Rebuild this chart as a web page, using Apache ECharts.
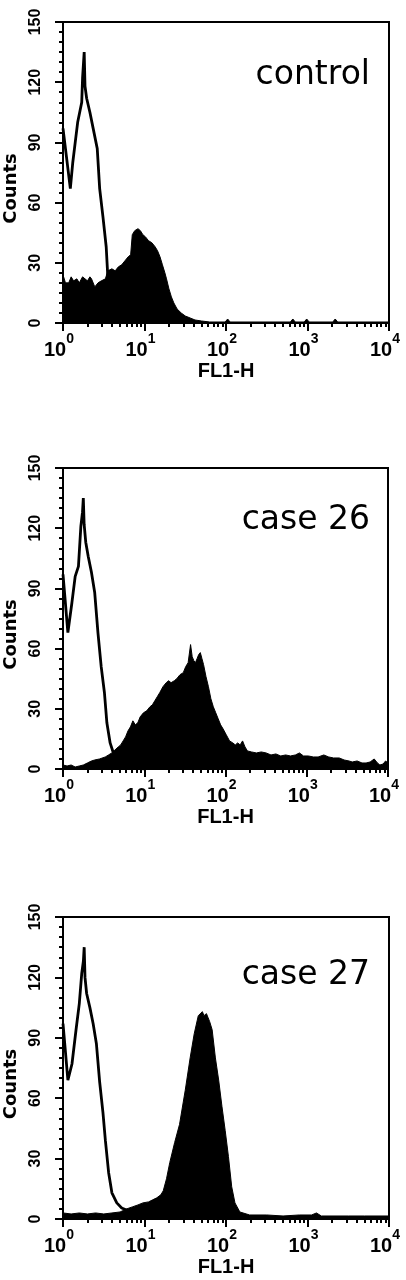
<!DOCTYPE html>
<html>
<head>
<meta charset="utf-8">
<script src="https://cdn.jsdelivr.net/npm/echarts@6/dist/echarts.min.js"></script>
<style>
  html, body { margin: 0; padding: 0; background: #fff; }
  #chart { width: 406px; height: 1280px; }
</style>
</head>
<body>
<div id="chart"></div>
<script>
// x values are FL1-H in decades (0 = 10^0 ... 4 = 10^4), y values are counts

// control
const ctrlOpenX = [0, 0.02, 0.09, 0.12, 0.15, 0.18, 0.21, 0.23, 0.24, 0.26, 0.27, 0.29, 0.33, 0.37, 0.42, 0.45, 0.49, 0.53, 0.55, 0.58, 0.62, 0.68, 0.75, 0.85, 0.95]
const ctrlOpenY = [97, 97, 67, 80, 90, 100, 106, 110, 122, 135, 118, 112, 105, 97, 87, 67, 53, 38, 23, 14, 8, 4, 2, 1, 0]
const ctrlFillX = [0, 0.03, 0.07, 0.10, 0.13, 0.17, 0.20, 0.24, 0.27, 0.30, 0.33, 0.35, 0.39, 0.43, 0.47, 0.52, 0.55, 0.60, 0.64, 0.68, 0.72, 0.76, 0.80, 0.83, 0.85, 0.88, 0.92, 0.95, 0.98, 1.01, 1.05, 1.09, 1.13, 1.16, 1.19, 1.22, 1.25, 1.27, 1.30, 1.33, 1.36, 1.40, 1.45, 1.50, 1.56, 1.62, 1.70, 1.80, 1.99, 2.02, 2.05, 2.79, 2.82, 2.85, 2.96, 2.99, 3.02, 3.31, 3.34, 3.37, 4]
const ctrlFillY = [24, 20, 20, 23, 21, 22, 20, 23, 22, 21, 23, 22, 18, 20, 21, 22, 26, 27, 26, 28, 29, 31, 33, 34, 44, 46, 47, 46, 44, 43, 41, 40, 38, 36, 33, 29, 25, 22, 17, 13, 10, 7, 5, 3.5, 2.5, 1.5, 1, 0.5, 0.5, 2, 0.5, 0.5, 2, 0.5, 0.5, 2, 0.5, 0.5, 2, 0.5, 0.5]

// case 26
const c26OpenX = [0, 0.06, 0.11, 0.15, 0.19, 0.22, 0.24, 0.25, 0.26, 0.28, 0.31, 0.35, 0.39, 0.43, 0.47, 0.51, 0.54, 0.58, 0.62, 0.66, 0.72, 0.80, 0.90, 1.0]
const c26OpenY = [97, 68, 83, 96, 101, 121, 128, 135, 122, 113, 106, 98, 88, 68, 51, 38, 23, 13, 8, 5, 3, 1.5, 0.5, 0]
const c26FillX = [0, 0.05, 0.10, 0.15, 0.20, 0.25, 0.30, 0.35, 0.39, 0.45, 0.52, 0.56, 0.60, 0.64, 0.68, 0.71, 0.74, 0.77, 0.80, 0.83, 0.86, 0.89, 0.92, 0.95, 0.99, 1.03, 1.07, 1.10, 1.13, 1.16, 1.19, 1.23, 1.27, 1.30, 1.33, 1.37, 1.40, 1.44, 1.48, 1.51, 1.54, 1.57, 1.59, 1.61, 1.63, 1.65, 1.67, 1.69, 1.71, 1.73, 1.76, 1.79, 1.82, 1.85, 1.88, 1.91, 1.94, 1.97, 2.01, 2.05, 2.09, 2.12, 2.15, 2.18, 2.21, 2.24, 2.27, 2.32, 2.38, 2.44, 2.50, 2.56, 2.62, 2.68, 2.74, 2.80, 2.86, 2.91, 2.96, 3.02, 3.08, 3.14, 3.21, 3.27, 3.33, 3.40, 3.46, 3.52, 3.56, 3.62, 3.68, 3.73, 3.78, 3.83, 3.87, 3.90, 3.94, 3.97, 4]
const c26FillY = [2, 1.5, 2, 1, 1.5, 2, 3, 4, 4.5, 5, 6, 7, 8, 9.5, 11, 12, 14, 16, 19, 21, 24, 22, 23, 26, 28, 29, 31, 32, 34, 36, 38, 41, 43, 44, 43, 44, 45, 47, 48, 51, 53, 62, 56, 54, 53, 55, 57, 58, 55, 52, 46, 41, 35, 31, 28, 25, 22, 20, 17, 14, 13, 12, 13, 12, 14, 11, 9, 8.5, 8, 8.5, 8, 7, 7.5, 6.5, 7, 6.5, 7, 8, 6.5, 6.5, 6, 6, 7, 6, 5.5, 5.5, 4.5, 4, 3.5, 4, 3, 3, 3.5, 5, 3, 2, 2.5, 4, 3]

// case 27
const c27OpenX = [0, 0.06, 0.11, 0.16, 0.20, 0.23, 0.25, 0.26, 0.27, 0.29, 0.33, 0.37, 0.41, 0.45, 0.49, 0.52, 0.56, 0.60, 0.66, 0.72, 0.78, 0.85, 0.95, 1.05]
const c27OpenY = [97, 69, 77, 94, 107, 122, 128, 135, 120, 112, 105, 97, 87, 68, 53, 39, 23, 13, 8, 5.5, 4.5, 3, 1.5, 0.5]
const c27FillX = [0, 0.10, 0.20, 0.30, 0.40, 0.50, 0.60, 0.70, 0.78, 0.85, 0.92, 0.98, 1.05, 1.10, 1.15, 1.20, 1.23, 1.27, 1.31, 1.37, 1.43, 1.50, 1.56, 1.61, 1.66, 1.71, 1.73, 1.76, 1.80, 1.83, 1.87, 1.91, 1.95, 1.99, 2.03, 2.07, 2.11, 2.17, 2.29, 2.50, 2.70, 2.90, 3.05, 3.11, 3.17, 3.50, 3.70, 4]
const c27FillY = [3, 2.5, 3, 2.5, 3, 2.5, 3, 3.5, 5, 6, 7, 8, 8.5, 9.5, 10.5, 12, 14, 20, 28, 38, 47, 64, 80, 92, 101, 103, 101, 102, 98, 94, 80, 69, 56, 44, 31, 16, 8, 3.5, 2, 2, 1.5, 2, 2, 3, 1.5, 1.5, 1.5, 1.5]

const panelNames = ['control', 'case 26', 'case 27']
const decadeLabels = ['0', '1', '2', '3', '4']

const panels = [
  { name: panelNames[0], open: [ctrlOpenX, ctrlOpenY], fill: [ctrlFillX, ctrlFillY] },
  { name: panelNames[1], open: [c26OpenX, c26OpenY], fill: [c26FillX, c26FillY] },
  { name: panelNames[2], open: [c27OpenX, c27OpenY], fill: [c27FillX, c27FillY] }
]

const grids = [
  { left: 63, top: 22, width: 326, height: 301 },
  { left: 63, top: 468, width: 325, height: 301 },
  { left: 63, top: 917, width: 326, height: 302 }
]
const labelTops = [59, 504, 959]

// log-spaced minor ticks inside each decade
const minorTicks = []
for (let d = 0; d < 4; d++) {
  for (let k = 2; k <= 9; k++) minorTicks.push(d + Math.log10(k))
}

const black = '#000'

function pairs(xs, ys) {
  return xs.map((x, i) => [x, ys[i]])
}

const xAxes = []
const yAxes = []
const series = []

panels.forEach((p, i) => {
  xAxes.push({
    type: 'value',
    gridIndex: i,
    position: 'bottom',
    min: 0,
    max: 4,
    interval: 1,
    name: 'FL1-H',
    nameLocation: 'middle',
    nameGap: 38,
    nameTextStyle: { color: black, fontSize: 20, fontWeight: 'bold', fontFamily: 'Liberation Sans' },
    axisLine: { show: true, lineStyle: { color: black, width: 2 } },
    axisTick: { show: true, length: 8, lineStyle: { color: black, width: 2 } },
    axisLabel: {
      margin: 9,
      color: black,
      padding: [0, 8, 0, 0],
      formatter: v => '{b|10}{s|' + decadeLabels[v] + '}',
      rich: {
        b: { fontSize: 20, fontWeight: 'bold', fontFamily: 'Liberation Sans', color: black, lineHeight: 28, verticalAlign: 'bottom' },
        s: { fontSize: 14, fontWeight: 'bold', fontFamily: 'Liberation Sans', color: black, lineHeight: 14, verticalAlign: 'top' }
      }
    },
    splitLine: { show: false }
  })
  xAxes.push({
    type: 'value',
    gridIndex: i,
    position: 'bottom',
    min: 0,
    max: 4,
    axisLine: { show: false },
    axisLabel: { show: false },
    axisTick: { show: true, length: 4, customValues: minorTicks, lineStyle: { color: black, width: 2 } },
    splitLine: { show: false }
  })
  yAxes.push({
    type: 'value',
    gridIndex: i,
    min: 0,
    max: 150,
    interval: 30,
    name: 'Counts',
    nameLocation: 'middle',
    nameGap: 42,
    nameTextStyle: { color: black, fontSize: 18, fontWeight: 'bold', fontFamily: 'DejaVu Sans', padding: [0, 32, 0, 0] },
    axisLine: { show: true, lineStyle: { color: black, width: 2 } },
    axisTick: { show: true, length: 8, lineStyle: { color: black, width: 2 } },
    minorTick: { show: true, splitNumber: 6, length: 4, lineStyle: { color: black, width: 2 } },
    axisLabel: { rotate: 90, margin: 19, color: black, fontSize: 16, fontWeight: 'bold', fontFamily: 'Liberation Sans' },
    splitLine: { show: false },
    minorSplitLine: { show: false }
  })
  series.push({
    type: 'line',
    xAxisIndex: 2 * i,
    yAxisIndex: i,
    data: pairs(p.fill[0], p.fill[1]),
    symbol: 'none',
    silent: true,
    itemStyle: { color: black },
    lineStyle: { color: black, width: 1 },
    areaStyle: { color: black, opacity: 1 },
    z: 2
  })
  series.push({
    type: 'line',
    xAxisIndex: 2 * i,
    yAxisIndex: i,
    data: pairs(p.open[0], p.open[1]),
    symbol: 'none',
    silent: true,
    itemStyle: { color: black },
    lineStyle: { color: black, width: 2.8 },
    z: 3
  })
})

const chart = echarts.init(document.getElementById('chart'), null, { renderer: 'canvas' })
chart.setOption({
  backgroundColor: '#fff',
  animation: false,
  textStyle: { fontFamily: 'Liberation Sans' },
  grid: grids.map(g => Object.assign({
    show: true,
    borderColor: black,
    borderWidth: 2,
    backgroundColor: 'transparent',
    containLabel: false,
    outerBoundsMode: 'none'
  }, g)),
  xAxis: xAxes,
  yAxis: yAxes,
  series: series,
  graphic: panels.map((p, i) => ({
    type: 'text',
    right: 36,
    top: labelTops[i],
    z: 10,
    style: { text: p.name, fill: black, font: '33px "DejaVu Sans"' }
  }))
})
</script>
</body>
</html>
